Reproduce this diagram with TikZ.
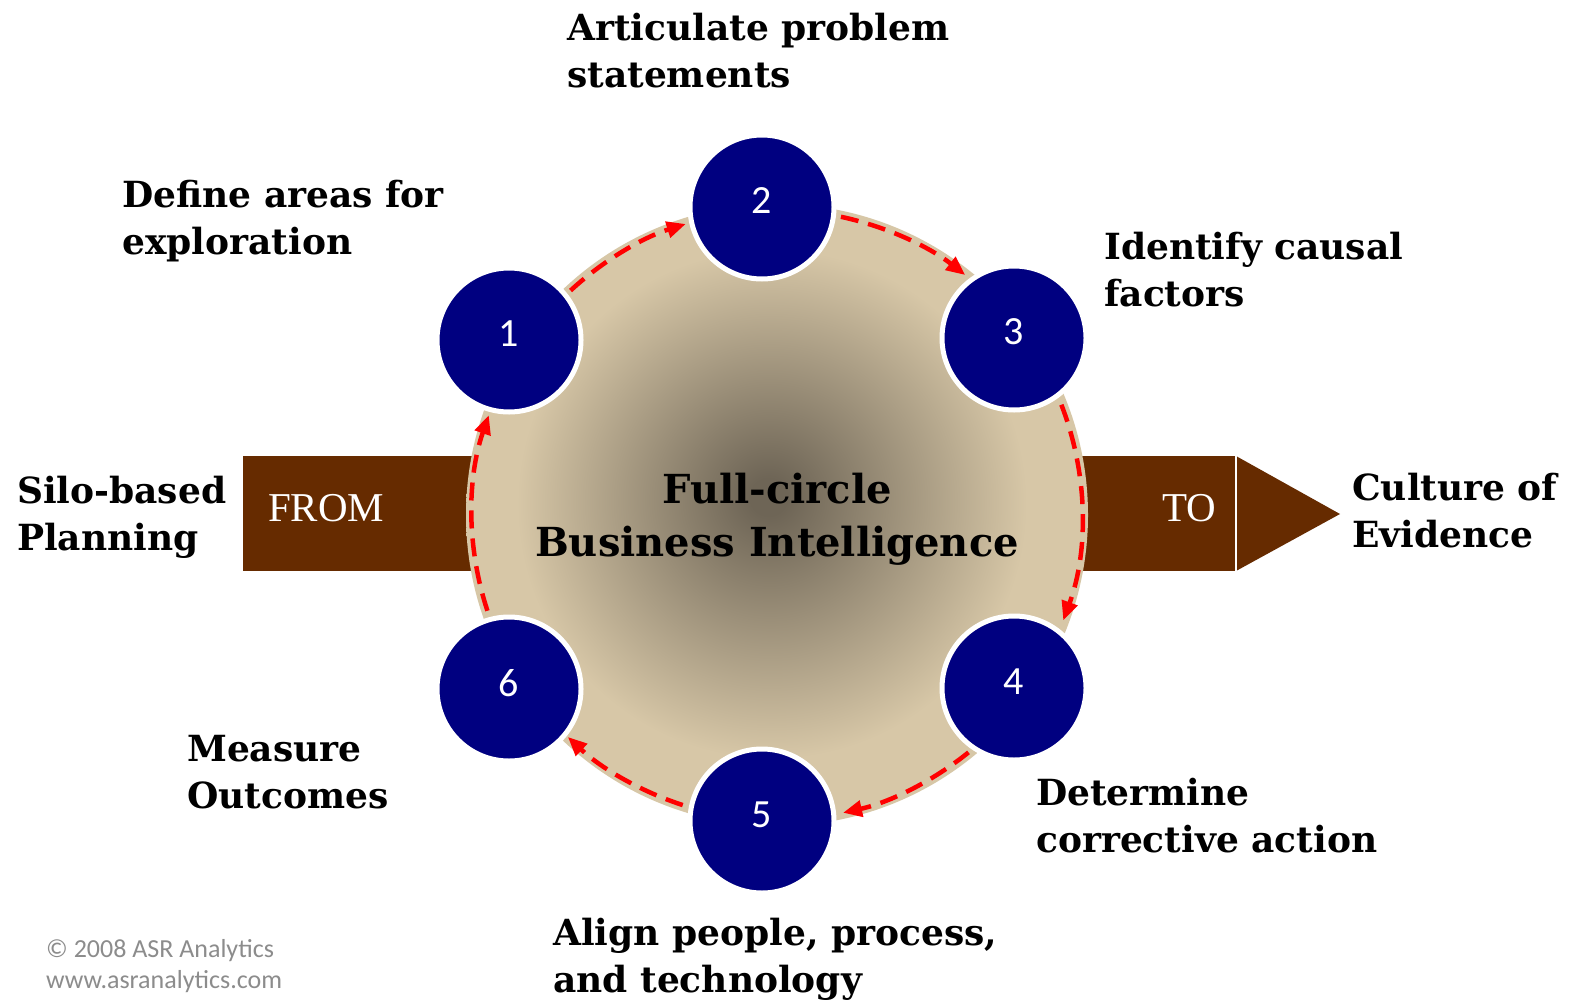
\documentclass[tikz,border=0pt]{standalone}
\usepackage{fontspec}
\setmainfont{DejaVu Serif}
\newfontfamily\fromfont{Liberation Serif}
\newfontfamily\numfont{Carlito}
\usetikzlibrary{arrows.meta}
\definecolor{navy}{RGB}{0,0,128}
\definecolor{brownarrow}{RGB}{102,43,0}
\definecolor{beige}{RGB}{215,199,167}
\definecolor{discdark}{RGB}{110,101,86}
\definecolor{copygray}{RGB}{140,140,140}
\pgfdeclareradialshading{discshade}{\pgfpoint{-0.7bp}{1.5bp}}{color(0bp)=(discdark); color(1.5bp)=(discdark); color(20.5bp)=(beige); color(50bp)=(beige)}
\newcommand\twolines[2]{\vtop{\hbox{#1}\hbox{#2}}}
\newcommand\ctwolines[2]{\vtop{\hbox to 0pt{\hss#1\hss}\hbox to 0pt{\hss#2\hss}}}
\begin{document}
\begin{tikzpicture}[x=1pt,y=1pt,
 numcirc/.style={circle, fill=navy, draw=white, line width=5pt, minimum size=144pt, inner sep=0pt, text=white, font=\numfont\fontsize{40}{40}\selectfont},
 lbl/.style={anchor=base west, inner sep=0pt, font=\bfseries\fontsize{36}{47}\selectfont},
 ctext/.style={anchor=base, inner sep=0pt, font=\bfseries\fontsize{40}{53}\selectfont},
 flow/.style={red, line width=4.5pt, dash pattern=on 18pt off 10pt, -{Triangle[length=19pt,width=16pt]}},
 brownpart/.style={fill=brownarrow, draw=none},
 fromto/.style={text=white, font=\fromfont\fontsize{41}{41}\selectfont, inner sep=0pt, anchor=base west},
 copytext/.style={text=copygray, font=\numfont\fontsize{26}{31}\selectfont, inner sep=0pt, anchor=base west}
]
\useasboundingbox[fill=white] (0,0) rectangle (1571,-1001);
% brown FROM -> TO arrow
\fill[brownpart] (243,-456) rectangle (490,-571);
\fill[brownpart] (1060,-456) rectangle (1236,-571);
\fill[brownpart] (1236,-456) -- (1340,-514) -- (1236,-571) -- cycle;
\draw[white, line width=1.5pt] (1236,-456) -- (1236,-571);
% disc
\coordinate (bc) at (777,-515);
\path[shading=discshade] (bc) circle[radius=311];
\node[fromto] (from) at (268,-521) {FROM};
\node[fromto] (to) at (1162,-521) {TO};
\node[ctext] (centre) at (777,-503) {\ctwolines{Full-circle}{Business Intelligence}};
% flow arcs
\draw[flow] (bc) ++(132.6:305) arc[start angle=132.6, end angle=107.4, radius=305];
\draw[flow] (bc) ++(77.9:305) arc[start angle=77.9, end angle=51.9, radius=305];
\draw[flow] (bc) ++(21.2:305) arc[start angle=21.2, end angle=-20.2, radius=305];
\draw[flow] (bc) ++(-51.1:305) arc[start angle=-51.1, end angle=-77.5, radius=305];
\draw[flow] (bc) ++(-108:305) arc[start angle=-108, end angle=-133.3, radius=305];
\draw[flow] (bc) ++(198.3:305) arc[start angle=198.3, end angle=160.9, radius=305];
% numbered circles
\node[numcirc] (n1) at (509,-340) {\raisebox{12pt}{1}};
\node[numcirc] (n2) at (762,-207) {\raisebox{12pt}{2}};
\node[numcirc] (n3) at (1014,-338) {\raisebox{12pt}{3}};
\node[numcirc] (n4) at (1014,-688) {\raisebox{12pt}{4}};
\node[numcirc] (n5) at (762,-821) {\raisebox{12pt}{5}};
\node[numcirc] (n6) at (509,-689) {\raisebox{12pt}{6}};
% labels
\node[lbl] (l2) at (567,-40) {\twolines{Articulate problem}{statements}};
\node[lbl] (l1) at (122,-207) {\twolines{Define areas for}{exploration}};
\node[lbl] (l3) at (1104,-259) {\twolines{Identify causal}{factors}};
\node[lbl] (lfrom) at (17,-503) {\twolines{Silo-based}{Planning}};
\node[lbl] (lto) at (1352,-500) {\twolines{Culture of}{Evidence}};
\node[lbl] (l6) at (187,-761) {\twolines{Measure}{Outcomes}};
\node[lbl] (l4) at (1036,-805) {\twolines{Determine}{corrective action}};
\node[lbl] (l5) at (553,-945) {\twolines{Align people, process,}{and technology}};
% copyright
\node[copytext] (copy1) at (46,-957) {© 2008 ASR Analytics};
\node[copytext] (copy2) at (46,-988) {www.asranalytics.com};
\end{tikzpicture}
\end{document}
